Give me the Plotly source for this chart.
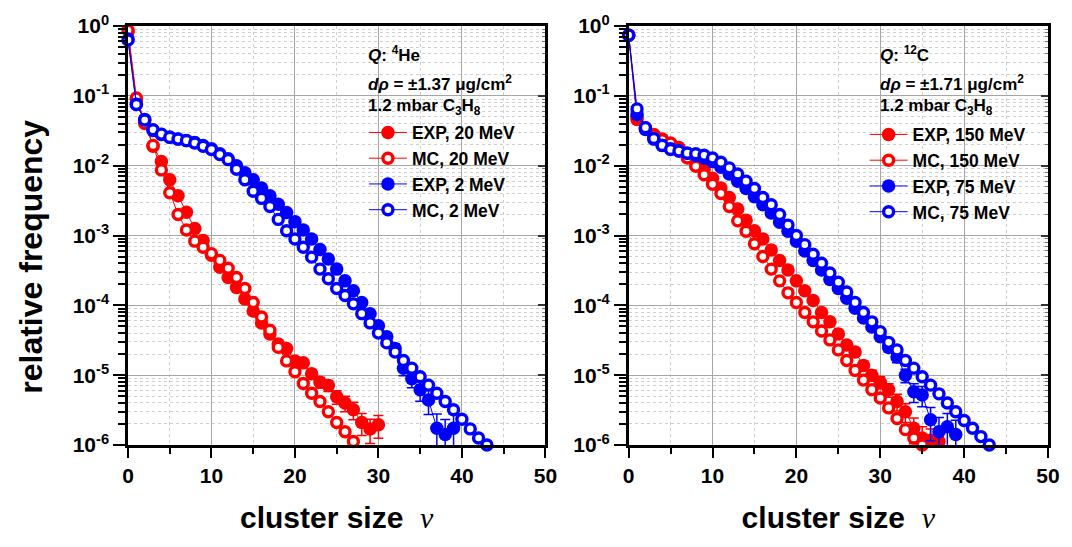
import plotly.graph_objects as go

# ---------------- data: relative frequency of cluster size ----------------
# left panel: 4He ions, EXP/MC at 20 MeV (red) and 2 MeV (blue)
he_exp20 = [0.83, 8.9e-2, 4.5e-2, 1.9e-2, 1.15e-2, 6.3e-3, 3.7e-3, 2.15e-3, 1.26e-3, 8.5e-4,
            5.2e-4, 3.5e-4, 2.5e-4, 1.8e-4, 1.23e-4, 8.3e-5, 5.6e-5, 3.9e-5, 2.8e-5, 2.4e-5,
            1.6e-5, 1.5e-5, 1.05e-5, 7.9e-6, 7.1e-6, 4.9e-6, 4.0e-6, 3.2e-6, 2.1e-6, 1.7e-6,
            1.95e-6]
he_exp20_err = [0] * 18 + [0.08, 0.09, 0.11, 0.12, 0.15, 0.17, 0.18, 0.22, 0.25, 0.28, 0.35,
                           0.38, 0.36]
he_mc20 = [0.87, 9.3e-2, 4.0e-2, 1.95e-2, 8.7e-3, 4.1e-3, 2.0e-3, 1.2e-3, 8.3e-4, 6.8e-4,
           5.5e-4, 4.4e-4, 3.4e-4, 2.5e-4, 1.74e-4, 1.1e-4, 6.8e-5, 4.4e-5, 2.5e-5, 1.6e-5,
           1.12e-5, 7.6e-6, 5.5e-6, 4.2e-6, 3.0e-6, 2.1e-6, 1.55e-6, 1.12e-6]
he_exp2 = [0.65, 7.6e-2, 4.6e-2, 3.2e-2, 2.8e-2, 2.57e-2, 2.4e-2, 2.3e-2, 2.14e-2, 1.95e-2,
           1.74e-2, 1.48e-2, 1.26e-2, 1.0e-2, 7.9e-3, 6.3e-3, 4.8e-3, 3.7e-3, 2.8e-3, 2.14e-3,
           1.58e-3, 1.2e-3, 8.9e-4, 6.3e-4, 4.6e-4, 3.3e-4, 2.24e-4, 1.62e-4, 1.1e-4, 7.6e-5,
           5.1e-5, 3.55e-5, 2.4e-5, 1.26e-5, 8.9e-6, 6.2e-6, 4.4e-6, 1.74e-6, 1.41e-6, 1.74e-6]
he_exp2_err = [0] * 30 + [0.10, 0.13, 0.16, 0.22, 0.26, 0.32, 0.38, 0.60, 0.65, 0.60]
he_mc2 = [0.63, 7.5e-2, 4.5e-2, 3.27e-2, 2.83e-2, 2.54e-2, 2.4e-2, 2.28e-2, 2.11e-2, 1.89e-2,
          1.7e-2, 1.44e-2, 1.22e-2, 8.9e-3, 6.3e-3, 4.3e-3, 3.4e-3, 2.6e-3, 1.7e-3, 1.17e-3,
          8.9e-4, 6.8e-4, 4.9e-4, 3.3e-4, 2.4e-4, 1.74e-4, 1.38e-4, 1.05e-4, 7.6e-5, 5.6e-5,
          4.0e-5, 2.9e-5, 2.14e-5, 1.62e-5, 1.26e-5, 9.5e-6, 7.2e-6, 5.5e-6, 4.2e-6, 3.2e-6,
          2.34e-6, 1.7e-6, 1.26e-6, 1.0e-6]

# right panel: 12C ions, EXP/MC at 150 MeV (red) and 75 MeV (blue)
c_exp150 = [0.74, 4.6e-2, 3.5e-2, 2.8e-2, 2.4e-2, 2.1e-2, 1.82e-2, 1.41e-2, 1.12e-2, 8.9e-3,
            6.6e-3, 4.8e-3, 3.5e-3, 2.4e-3, 1.66e-3, 1.17e-3, 8.9e-4, 6.2e-4, 4.4e-4, 3.2e-4,
            2.24e-4, 1.62e-4, 1.17e-4, 7.9e-5, 5.8e-5, 3.9e-5, 2.7e-5, 2.14e-5, 1.38e-5, 1.0e-5,
            7.9e-6, 6.2e-6, 4.2e-6, 3.0e-6, 1.74e-6, 1.26e-6, 1.17e-6, 1.12e-6]
c_exp150_err = [0] * 25 + [0.10, 0.12, 0.13, 0.16, 0.18, 0.20, 0.22, 0.27, 0.30, 0.40, 0.45,
                           0.45, 0.45]
c_mc150 = [0.74, 5.0e-2, 3.4e-2, 2.75e-2, 2.34e-2, 2.1e-2, 1.78e-2, 1.29e-2, 9.8e-3, 7.4e-3,
           5.4e-3, 4.0e-3, 2.6e-3, 1.62e-3, 1.15e-3, 7.6e-4, 5.0e-4, 3.3e-4, 2.24e-4, 1.51e-4,
           1.1e-4, 7.9e-5, 5.8e-5, 4.3e-5, 3.2e-5, 2.3e-5, 1.62e-5, 1.17e-5, 8.5e-6, 6.2e-6,
           4.7e-6, 3.4e-6, 2.4e-6, 1.66e-6, 1.26e-6, 1.0e-6]
c_exp75 = [0.74, 5.4e-2, 3.3e-2, 2.4e-2, 1.95e-2, 1.74e-2, 1.62e-2, 1.51e-2, 1.41e-2, 1.29e-2,
           1.15e-2, 9.5e-3, 7.6e-3, 6.0e-3, 4.7e-3, 3.6e-3, 2.75e-3, 2.1e-3, 1.55e-3, 1.15e-3,
           8.3e-4, 6.0e-4, 4.4e-4, 3.2e-4, 2.34e-4, 1.74e-4, 1.26e-4, 9.1e-5, 6.6e-5, 4.9e-5,
           3.55e-5, 2.5e-5, 1.82e-5, 1.0e-5, 5.8e-6, 5.2e-6, 2.3e-6, 1.55e-6, 1.82e-6, 1.41e-6]
c_exp75_err = [0] * 30 + [0.12, 0.14, 0.17, 0.22, 0.30, 0.32, 0.50, 0.60, 0.55, 0.60]
c_mc75 = [0.74, 6.5e-2, 3.5e-2, 2.45e-2, 1.95e-2, 1.7e-2, 1.62e-2, 1.51e-2, 1.48e-2, 1.41e-2,
          1.29e-2, 1.12e-2, 9.3e-3, 7.6e-3, 6.0e-3, 4.7e-3, 3.5e-3, 2.75e-3, 2.0e-3, 1.41e-3,
          1.0e-3, 7.4e-4, 5.4e-4, 4.0e-4, 2.9e-4, 2.14e-4, 1.55e-4, 1.1e-4, 7.9e-5, 5.8e-5,
          4.2e-5, 2.95e-5, 2.3e-5, 1.62e-5, 1.26e-5, 9.5e-6, 7.2e-6, 5.4e-6, 4.0e-6, 3.0e-6,
          2.24e-6, 1.74e-6, 1.32e-6, 1.0e-6]

x_ticks = [0, 10, 20, 30, 40, 50]
x_minor = [5, 15, 25, 35, 45]
y_ticks = [1e-6, 1e-5, 1e-4, 1e-3, 1e-2, 1e-1, 1]
y_ticktext = ["10<sup>-6</sup>", "10<sup>-5</sup>", "10<sup>-4</sup>", "10<sup>-3</sup>",
              "10<sup>-2</sup>", "10<sup>-1</sup>", "10<sup>0</sup>"]
y_minor = [m * 10.0 ** e for e in range(-6, 0) for m in range(2, 10)]

RED = "#ff0000"
BLUE = "#0000ff"
FONT = "Liberation Sans, Arial, sans-serif"

fig = go.Figure()


def add_series(vals, name, color, filled, xa, ya, legend, err=None):
    xs = list(range(len(vals)))
    if filled:
        marker = dict(symbol="circle", size=13.5, color=color, line=dict(width=0))
    else:
        marker = dict(symbol="circle", size=10, color="white",
                      line=dict(color=color, width=3.4))
    kw = {}
    if err is not None:
        kw["error_y"] = dict(type="data", array=[v * e for v, e in zip(vals, err)],
                             visible=True, color=color, thickness=1.5, width=5)
    fig.add_trace(go.Scatter(
        x=xs, y=vals, name=name, mode="lines+markers",
        line=dict(color=color, width=1), marker=marker,
        xaxis=xa, yaxis=ya, legend=legend,
        cliponaxis=err is not None, **kw))


add_series(he_exp20, "EXP, 20 MeV", RED, True, "x", "y", "legend", he_exp20_err)
add_series(he_mc20, "MC, 20 MeV", RED, False, "x", "y", "legend")
add_series(he_exp2, "EXP, 2 MeV", BLUE, True, "x", "y", "legend", he_exp2_err)
add_series(he_mc2, "MC, 2 MeV", BLUE, False, "x", "y", "legend")

add_series(c_exp150, "EXP, 150 MeV", RED, True, "x2", "y2", "legend2", c_exp150_err)
add_series(c_mc150, "MC, 150 MeV", RED, False, "x2", "y2", "legend2")
add_series(c_exp75, "EXP, 75 MeV", BLUE, True, "x2", "y2", "legend2", c_exp75_err)
add_series(c_mc75, "MC, 75 MeV", BLUE, False, "x2", "y2", "legend2")

# empty carriers for the inward ticks on the right-hand frame of each panel
for xa, ya in (("x", "y3"), ("x2", "y4")):
    fig.add_trace(go.Scatter(x=[None], y=[None], xaxis=xa, yaxis=ya,
                             showlegend=False, hoverinfo="skip"))

W, H = 1072, 547
ML, MR, MT, MB = 128, 16, 24, 102
PW, PH = W - ML - MR, H - MT - MB


def px_x(p):
    return (p - ML) / PW


def px_y(p):
    return (H - MB - p) / PH


tick_font = dict(family=FONT, size=21, color="black", weight="bold")
title_font = dict(family=FONT, size=30, color="black", weight="bold")

xaxis_common = dict(
    range=[0, 50], tickvals=x_ticks, ticks="outside", ticklen=10, tickwidth=2,
    tickcolor="black", showline=True, linewidth=2.5, linecolor="black", mirror=True,
    showgrid=True, gridcolor="#a6a6a6", gridwidth=1, zeroline=False,
    tickfont=tick_font,
    minor=dict(tickvals=x_minor, ticks="outside", ticklen=6, tickwidth=2, tickcolor="black",
               showgrid=True, gridcolor="#cfcfcf", griddash="dot", gridwidth=1),
    title=dict(text='cluster size  <span style="font-family:Liberation Serif;font-weight:normal"><i>ν</i></span>',
               font=title_font, standoff=22),
)
yaxis_common = dict(
    type="log", range=[-6, 0], tickvals=y_ticks, ticktext=y_ticktext,
    ticks="outside", ticklen=12, tickwidth=2, tickcolor="black",
    showline=True, linewidth=2.5, linecolor="black", mirror=True,
    showgrid=True, gridcolor="#a6a6a6", gridwidth=1, zeroline=False,
    tickfont=tick_font,
    minor=dict(tickvals=y_minor, ticks="outside", ticklen=7, tickwidth=2, tickcolor="black",
               showgrid=True, gridcolor="#cfcfcf", griddash="dot", gridwidth=1),
)
right_ticks = dict(
    type="log", range=[-6, 0], tickvals=y_ticks, side="right", showticklabels=False,
    ticks="inside", ticklen=7, tickwidth=1.5, tickcolor="#333333",
    showline=False, showgrid=False, zeroline=False,
    minor=dict(tickvals=y_minor, ticks="inside", ticklen=3, tickwidth=1,
               tickcolor="#777777", showgrid=False),
)

legend_common = dict(
    xanchor="left", yanchor="top", bgcolor="rgba(0,0,0,0)",
    font=dict(family=FONT, size=17.5, color="black", weight="bold"),
    tracegroupgap=0, itemwidth=38, traceorder="normal",
)

fig.update_layout(
    width=W, height=H, margin=dict(l=ML, r=MR, t=MT, b=MB),
    paper_bgcolor="white", plot_bgcolor="white",
    xaxis=dict(domain=[0, px_x(549)], anchor="y", **xaxis_common),
    xaxis2=dict(domain=[px_x(633), 1], anchor="y2", **xaxis_common),
    yaxis=dict(domain=[0, 1], anchor="x", **yaxis_common),
    yaxis2=dict(domain=[0, 1], anchor="x2", **yaxis_common),
    yaxis3=dict(overlaying="y", anchor="x", **right_ticks),
    yaxis4=dict(overlaying="y2", anchor="x2", **right_ticks),
    legend=dict(x=px_x(366), y=px_y(113), **legend_common),
    legend2=dict(x=px_x(871), y=px_y(115), **legend_common),
)

# shared y-axis title, set at the left edge of the figure
fig.add_annotation(x=px_x(30), y=px_y(256), xref="paper", yref="paper",
                   text="relative frequency", textangle=-90, showarrow=False,
                   xanchor="center", yanchor="middle",
                   font=dict(family=FONT, size=32, color="black", weight="bold"))

# header lines inside each panel
hdr_font = dict(family=FONT, size=17, color="black", weight="bold")
headers = [
    (368, ["<i>Q</i>: <sup>4</sup>He",
           "<i>d</i><i>ρ</i> = ±1.37 μg/cm<sup>2</sup>",
           "1.2 mbar C<sub>3</sub>H<sub>8</sub>"]),
    (885, ["<i>Q</i>: <sup>12</sup>C",
           "<i>d</i><i>ρ</i> = ±1.71 μg/cm<sup>2</sup>",
           "1.2 mbar C<sub>3</sub>H<sub>8</sub>"]),
]
for xp, lines in headers:
    for txt, yp in zip(lines, [52, 81, 105]):
        fig.add_annotation(x=px_x(xp), y=px_y(yp), xref="paper", yref="paper",
                           text=txt, showarrow=False, xanchor="left", yanchor="middle",
                           font=hdr_font, align="left")

fig.write_html("out.html")
